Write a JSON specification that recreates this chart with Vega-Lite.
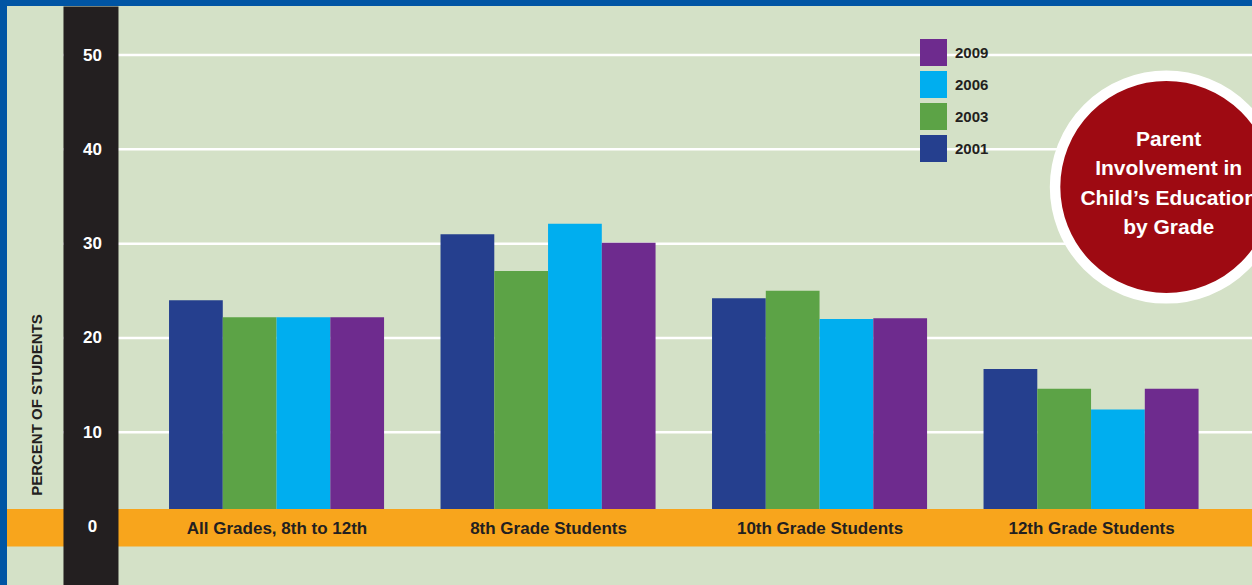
{
  "$schema": "https://vega.github.io/schema/vega-lite/v6.json",
  "width": 1245,
  "height": 579,
  "autosize": {"type": "none"},
  "padding": {"left": 7, "top": 6, "right": 0, "bottom": 0},
  "background": "#0055a4",
  "config": {"view": {"fill": "#d4e1c7", "stroke": null}, "font": "Liberation Sans"},
  "datasets": {
    "one": [{}],
    "bars": [
      {"group": "All Grades, 8th to 12th", "year": "2001", "value": 24},
      {"group": "All Grades, 8th to 12th", "year": "2003", "value": 22.2},
      {"group": "All Grades, 8th to 12th", "year": "2006", "value": 22.2},
      {"group": "All Grades, 8th to 12th", "year": "2009", "value": 22.2},
      {"group": "8th Grade Students", "year": "2001", "value": 31},
      {"group": "8th Grade Students", "year": "2003", "value": 27.1},
      {"group": "8th Grade Students", "year": "2006", "value": 32.1},
      {"group": "8th Grade Students", "year": "2009", "value": 30.1},
      {"group": "10th Grade Students", "year": "2001", "value": 24.2},
      {"group": "10th Grade Students", "year": "2003", "value": 25},
      {"group": "10th Grade Students", "year": "2006", "value": 22},
      {"group": "10th Grade Students", "year": "2009", "value": 22.1},
      {"group": "12th Grade Students", "year": "2001", "value": 16.7},
      {"group": "12th Grade Students", "year": "2003", "value": 14.6},
      {"group": "12th Grade Students", "year": "2006", "value": 12.4},
      {"group": "12th Grade Students", "year": "2009", "value": 14.6}
    ]
  },
  "layer": [
    {"data": {"name": "one"}, "mark": {"type": "rule", "color": "white", "strokeWidth": 2.5, "strokeDash": [1189, 100]}, "encoding": {"y": {"datum": 10, "type": "quantitative"}}},
    {"data": {"name": "one"}, "mark": {"type": "rule", "color": "white", "strokeWidth": 2.5, "strokeDash": [1189, 100]}, "encoding": {"y": {"datum": 20, "type": "quantitative"}}},
    {"data": {"name": "one"}, "mark": {"type": "rule", "color": "white", "strokeWidth": 2.5, "strokeDash": [1189, 100]}, "encoding": {"y": {"datum": 30, "type": "quantitative"}}},
    {"data": {"name": "one"}, "mark": {"type": "rule", "color": "white", "strokeWidth": 2.5, "strokeDash": [1189, 100]}, "encoding": {"y": {"datum": 40, "type": "quantitative"}}},
    {"data": {"name": "one"}, "mark": {"type": "rule", "color": "white", "strokeWidth": 2.5, "strokeDash": [1189, 100]}, "encoding": {"y": {"datum": 50, "type": "quantitative"}}},
    {
      "data": {"name": "bars"},
      "mark": {"type": "bar", "opacity": 1},
      "encoding": {
        "x": {
          "field": "group", "type": "nominal",
          "scale": {"domain": ["All Grades, 8th to 12th", "8th Grade Students", "10th Grade Students", "12th Grade Students"], "paddingInner": 0.208, "paddingOuter": 0.3968, "align": 0.752, "round": false},
          "axis": {
            "orient": "bottom", "title": null, "grid": false, "domain": false, "offset": 0,
            "ticks": true, "tickSize": -579, "tickWidth": 55, "tickOffset": -186.06, "tickRound": false,
            "tickColor": {"condition": {"test": "datum.value === 'All Grades, 8th to 12th'", "value": "#231f20"}, "value": "transparent"},
            "labelOffset": 186.06, "labelPadding": 522.5, "labelOverlap": false, "labelFlush": false, "labelLimit": 400,
            "labelFont": "Liberation Sans", "labelFontWeight": "bold", "labelFontSize": 17, "labelColor": "#231f20", "labelAngle": 0, "labelBaseline": "middle", "zindex": 1
          }
        },
        "xOffset": {"field": "year", "type": "nominal", "scale": {"domain": ["2001", "2003", "2006", "2009"], "paddingInner": 0, "paddingOuter": 0}},
        "y": {
          "field": "value", "type": "quantitative",
          "scale": {"domain": [-6.2, 55.2], "nice": false, "zero": false},
          "axis": {"values": [0, 10, 20, 30, 40, 50], "grid": false, "ticks": false, "tickSize": 0, "domain": false, "offset": -83.5, "labelColor": "white", "labelFont": "Liberation Sans", "labelFontWeight": "bold", "labelFontSize": 17, "labelAlign": "center", "labelBaseline": "middle", "labelPadding": -1.5, "labelFlush": false, "labelOverlap": false, "title": "PERCENT OF STUDENTS", "titleColor": "#231f20", "titleFont": "Liberation Sans", "titleFontSize": 15, "titleFontWeight": 700, "titleAngle": -90, "titleAlign": "center", "titleBaseline": "middle", "titleX": -54, "titleY": 398.5, "zindex": 1}
        },
        "y2": {"datum": 0},
        "color": {
          "field": "year", "type": "nominal",
          "scale": {"domain": ["2009", "2006", "2003", "2001"], "range": ["#6e2b8e", "#00aeef", "#5ca346", "#253f8e"]},
          "legend": {"title": null, "orient": "none", "legendX": 913, "legendY": 33, "direction": "vertical", "symbolType": "square", "symbolSize": 729, "symbolStrokeWidth": 0, "symbolOpacity": 1, "rowPadding": 5, "labelOffset": 8, "labelFont": "Liberation Sans", "labelFontWeight": "bold", "labelFontSize": 15, "labelColor": "#231f20", "padding": 0}
        }
      }
    },
    {
      "data": {"name": "one"},
      "mark": {"type": "rect", "color": "#f8a51c", "opacity": 1},
      "encoding": {
        "y": {"datum": 1.86, "type": "quantitative"},
        "y2": {"datum": -2.12}
      }
    },
    {
      "data": {"name": "one"},
      "mark": {"type": "point", "shape": "circle", "filled": true, "fill": "#9e0a12", "stroke": "white", "strokeWidth": 10.5, "size": 49506, "opacity": 1, "fillOpacity": 1, "strokeOpacity": 1, "clip": true},
      "encoding": {
        "x": {"datum": "12th Grade Students", "type": "nominal", "bandPosition": 0.85},
        "y": {"datum": 36, "type": "quantitative"}
      }
    },
    {
      "data": {"name": "one"},
      "mark": {"type": "text", "text": ["Parent", "Involvement in", "Child’s Education", "by Grade"], "font": "Liberation Sans", "fontWeight": "bold", "fontSize": 21, "fill": "white", "align": "center", "baseline": "middle", "lineHeight": 29.5, "clip": true},
      "encoding": {
        "x": {"datum": "12th Grade Students", "type": "nominal", "bandPosition": 0.861},
        "y": {"datum": 41, "type": "quantitative"}
      }
    }
  ]
}
